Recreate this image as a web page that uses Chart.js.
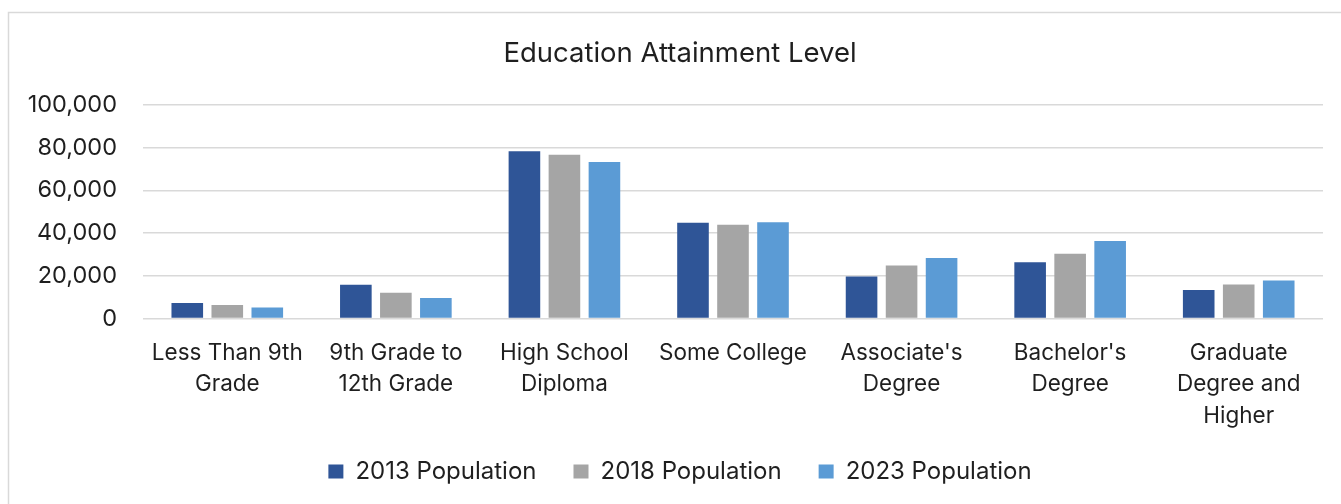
<!DOCTYPE html>
<html lang="en">
<head>
    <meta charset="UTF-8">
    <title>Education Attainment Level</title>
    <script src="https://cdn.jsdelivr.net/npm/chart.js"></script>
    <style>
        html, body { margin: 0; padding: 0; background: #fff; overflow: hidden; }
        #box { position: absolute; left: 0; top: 0; width: 1341px; height: 504px; }
    </style>
</head>
<body>
    <div id="box"><canvas id="myChart"></canvas></div>

    <script>
        // data
        const categories = [
            ["Less Than 9th", "Grade"],
            ["9th Grade to", "12th Grade"],
            ["High School", "Diploma"],
            "Some College",
            ["Associate's", "Degree"],
            ["Bachelor's", "Degree"],
            ["Graduate", "Degree and", "Higher"]
        ];
        const pop2013 = [7300, 15800, 78300, 44800, 19700, 26300, 13400];
        const pop2018 = [6300, 12100, 76700, 43900, 24800, 30300, 15900];
        const pop2023 = [5200, 9600, 73300, 45100, 28300, 36300, 17800];
        const yTicks = [0, 20000, 40000, 60000, 80000, 100000];

        const font = "Inter, 'Liberation Sans', sans-serif";
        const textColor = '#1f1f1f';
        const legendGap = 37;   // space between legend items
        const legendTrim = 28;  // keep the legend row low even with the wide gap

        // thin grey frame around the chart, like the office chart box
        const framePlugin = {
            id: 'frame',
            beforeDraw(chart) {
                const c = chart.ctx;
                c.save();
                c.fillStyle = '#fff';
                c.fillRect(0, 0, chart.width, chart.height);
                c.strokeStyle = '#d9d9d9';
                c.lineWidth = 1.5;
                c.strokeRect(8.5, 12.5, chart.width + 10, chart.height + 10);
                c.restore();
            }
        };

        // legend padding is used both across and down; take the extra height back out
        const legendFix = {
            id: 'legendFix',
            beforeUpdate(chart) {
                const lg = chart.legend;
                if (!lg || lg._trimmed) return;
                lg._trimmed = true;
                const fit = lg.fit, draw = lg.draw;
                lg.fit = function () { fit.call(this); this.height -= legendTrim; };
                lg.draw = function () {
                    this.top -= legendTrim;
                    draw.call(this);
                    this.top += legendTrim;
                };
            }
        };

        const ctx = document.getElementById('myChart').getContext('2d');
        const myChart = new Chart(ctx, {
            type: 'bar',
            data: {
                labels: categories,
                datasets: [
                    { label: '2013 Population', data: pop2013, backgroundColor: '#2F5597' },
                    { label: '2018 Population', data: pop2018, backgroundColor: '#A5A5A5' },
                    { label: '2023 Population', data: pop2023, backgroundColor: '#5B9BD5' }
                ]
            },
            options: {
                responsive: true,
                maintainAspectRatio: false,
                animation: false,
                categoryPercentage: 0.712,
                barPercentage: 0.79,
                layout: { padding: { top: 0, right: 1, bottom: 10.5, left: 20 } },
                plugins: {
                    title: {
                        display: true,
                        text: 'Education Attainment Level',
                        color: textColor,
                        font: { family: font, size: 27.5, weight: 'normal' },
                        padding: { top: 37, bottom: 35 }
                    },
                    legend: {
                        position: 'bottom',
                        labels: {
                            color: textColor,
                            font: { family: font, size: 24 },
                            boxWidth: 15,
                            boxHeight: 14,
                            padding: legendGap
                        }
                    },
                    tooltip: { enabled: false }
                },
                scales: {
                    y: {
                        min: 0,
                        max: 100000,
                        afterFit(scale) { scale.width = 123; },
                        afterBuildTicks(scale) { scale.ticks = yTicks.map(v => ({ value: v })); },
                        ticks: {
                            color: textColor,
                            padding: 26,
                            font: { family: font, size: 23.5 },
                            callback: v => v.toLocaleString('en-US')
                        },
                        grid: { color: '#d9d9d9', lineWidth: 1.5, drawTicks: false },
                        border: { display: false }
                    },
                    // empty strip on the right so the title and legend sit centred like the original
                    yRight: {
                        position: 'right',
                        min: 0,
                        max: 1,
                        afterFit(scale) { scale.width = 17; },
                        ticks: { display: false },
                        grid: { display: false, drawTicks: false },
                        border: { display: false }
                    },
                    x: {
                        ticks: {
                            color: textColor,
                            padding: 18.75,
                            maxRotation: 0,
                            autoSkip: false,
                            font: { family: font, size: 22.5, lineHeight: 1.4 }
                        },
                        grid: { display: false, drawTicks: false },
                        border: { display: false }
                    }
                }
            },
            plugins: [framePlugin, legendFix]
        });
    </script>
</body>
</html>
